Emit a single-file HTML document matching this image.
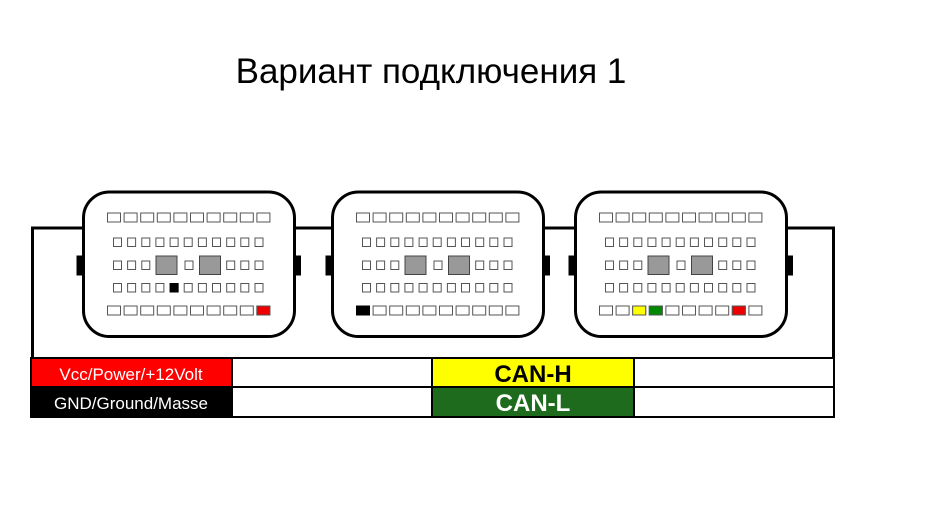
<!DOCTYPE html>
<html><head><meta charset="utf-8"><style>
body{margin:0;background:#fff;width:929px;height:507px;overflow:hidden}
svg{display:block}
</style></head><body>
<svg width="929" height="507" viewBox="0 0 929 507" xmlns="http://www.w3.org/2000/svg">
<defs>
<g id="conn">
 <rect x="76.5" y="255.5" width="7" height="20" fill="#000"/>
 <rect x="294" y="255.5" width="7" height="20" fill="#000"/>
 <rect x="83.5" y="192" width="211" height="144.5" rx="26" fill="#fff" stroke="#000" stroke-width="3"/>
 <g fill="#fff" stroke="#555" stroke-width="1">
  <rect x="107.5" y="213" width="13" height="9"/><rect x="124.1" y="213" width="13" height="9"/><rect x="140.7" y="213" width="13" height="9"/><rect x="157.3" y="213" width="13" height="9"/><rect x="173.9" y="213" width="13" height="9"/><rect x="190.5" y="213" width="13" height="9"/><rect x="207.1" y="213" width="13" height="9"/><rect x="223.7" y="213" width="13" height="9"/><rect x="240.3" y="213" width="13" height="9"/><rect x="256.9" y="213" width="13" height="9"/>
  <rect x="113.5" y="238" width="8" height="8.5"/><rect x="127.6" y="238" width="8" height="8.5"/><rect x="141.8" y="238" width="8" height="8.5"/><rect x="155.9" y="238" width="8" height="8.5"/><rect x="170.1" y="238" width="8" height="8.5"/><rect x="184.2" y="238" width="8" height="8.5"/><rect x="198.4" y="238" width="8" height="8.5"/><rect x="212.5" y="238" width="8" height="8.5"/><rect x="226.7" y="238" width="8" height="8.5"/><rect x="240.8" y="238" width="8" height="8.5"/><rect x="255" y="238" width="8" height="8.5"/>
  <rect x="113.5" y="261" width="8" height="8.5"/><rect x="127.6" y="261" width="8" height="8.5"/><rect x="141.8" y="261" width="8" height="8.5"/><rect x="185" y="261" width="8" height="8.5"/><rect x="226.7" y="261" width="8" height="8.5"/><rect x="240.8" y="261" width="8" height="8.5"/><rect x="255" y="261" width="8" height="8.5"/>
  <rect x="113.5" y="283.5" width="8" height="8.5"/><rect x="127.6" y="283.5" width="8" height="8.5"/><rect x="141.8" y="283.5" width="8" height="8.5"/><rect x="155.9" y="283.5" width="8" height="8.5"/><rect x="170.1" y="283.5" width="8" height="8.5"/><rect x="184.2" y="283.5" width="8" height="8.5"/><rect x="198.4" y="283.5" width="8" height="8.5"/><rect x="212.5" y="283.5" width="8" height="8.5"/><rect x="226.7" y="283.5" width="8" height="8.5"/><rect x="240.8" y="283.5" width="8" height="8.5"/><rect x="255" y="283.5" width="8" height="8.5"/>
  <rect x="107.5" y="306" width="13" height="9"/><rect x="124.1" y="306" width="13" height="9"/><rect x="140.7" y="306" width="13" height="9"/><rect x="157.3" y="306" width="13" height="9"/><rect x="173.9" y="306" width="13" height="9"/><rect x="190.5" y="306" width="13" height="9"/><rect x="207.1" y="306" width="13" height="9"/><rect x="223.7" y="306" width="13" height="9"/><rect x="240.3" y="306" width="13" height="9"/><rect x="256.9" y="306" width="13" height="9"/>
 </g>
 <g fill="#999" stroke="#444" stroke-width="1">
  <rect x="156" y="256" width="21" height="18.5"/><rect x="199.5" y="256" width="21" height="18.5"/>
 </g>
</g>
</defs>
<polyline points="32.5,357 32.5,228 833.5,228 833.5,357" fill="none" stroke="#000" stroke-width="3"/>
<use href="#conn"/>
<rect x="170.1" y="283.5" width="8" height="8.5" fill="#000" stroke="#000"/>
<rect x="256.9" y="306" width="13" height="9" fill="#e00" stroke="#555"/>
<use href="#conn" transform="translate(249,0)"/>
<rect x="356.5" y="306" width="13" height="9" fill="#000" stroke="#000"/>
<use href="#conn" transform="translate(492,0)"/>
<rect x="632.7" y="306" width="13" height="9" fill="#ff0" stroke="#555"/>
<rect x="649.3" y="306" width="13" height="9" fill="#080" stroke="#555"/>
<rect x="732.3" y="306" width="13" height="9" fill="#e00" stroke="#555"/>
<g stroke="#000" stroke-width="2">
 <rect x="31" y="358" width="201" height="29" fill="#f00"/>
 <rect x="232" y="358" width="200" height="29" fill="#fff"/>
 <rect x="432" y="358" width="202" height="29" fill="#ff0"/>
 <rect x="634" y="358" width="200" height="29" fill="#fff"/>
 <rect x="31" y="387" width="201" height="30" fill="#000"/>
 <rect x="232" y="387" width="200" height="30" fill="#fff"/>
 <rect x="432" y="387" width="202" height="30" fill="#1e6b1e"/>
 <rect x="634" y="387" width="200" height="30" fill="#fff"/>
</g>
<g font-family="Liberation Sans, sans-serif" text-anchor="middle">
 <text x="131" y="380" font-size="17" fill="#fff">Vcc/Power/+12Volt</text>
 <text x="131" y="409" font-size="17" fill="#fff">GND/Ground/Masse</text>
 <text x="533" y="382" font-size="24" font-weight="bold" fill="#000">CAN-H</text>
 <text x="533" y="411" font-size="24" font-weight="bold" fill="#fff">CAN-L</text>
 <text x="431" y="83" font-size="35" fill="#000">Вариант подключения 1</text>
</g>
</svg>
</body></html>
